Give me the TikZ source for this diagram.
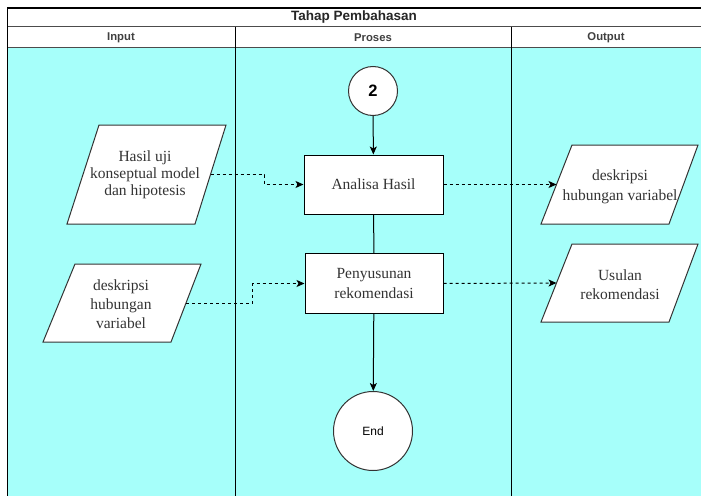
\documentclass[tikz,border=0pt]{standalone}
\usepackage{fontspec}
\setmainfont{Liberation Serif}
\setsansfont{Liberation Sans}
\usetikzlibrary{arrows.meta,calc}

\definecolor{lanefill}{HTML}{A6FFFA}
\definecolor{edgegray}{HTML}{333333}

\tikzset{
  lanetitle/.style={font=\sffamily\bfseries\fontsize{13.5}{15}\selectfont, text=black!85},
  lanehead/.style={font=\sffamily\bfseries\fontsize{11.3}{13}\selectfont, text=black!75},
  procbox/.style={draw=black, fill=white, line width=1pt, minimum width=139pt,
    minimum height=59pt, align=center, inner sep=0pt,
    font=\fontsize{15.5}{19.5}\selectfont, text=black!80},
  termcircle/.style={circle, draw=edgegray, fill=white, line width=1pt, inner sep=0pt},
  iolabel/.style={align=center, inner sep=0pt, text=black!80},
  ioshape/.style={draw=edgegray, fill=white, line width=1pt},
  solidflow/.style={draw=black, line width=1pt},
  arrowflow/.style={solidflow, -{Stealth[length=8pt,width=7pt,inset=2pt]}},
  dataflow/.style={draw=black, line width=1pt, dash pattern=on 3pt off 3pt,
    -{Stealth[length=8pt,width=7pt,inset=2pt]}},
}

\begin{document}
\begin{tikzpicture}[x=1pt,y=-1pt]
  \useasboundingbox (0,0) rectangle (701,495);

  % swimlane pool: body fill, header rows and lane dividers
  \fill[lanefill] (7.5,48) rectangle (702,496);
  \fill[white] (7.5,8) rectangle (702,48);
  \draw[black!70, line width=1pt] (7.5,27) -- (702,27);
  \draw[black!70, line width=1pt] (7.5,48) -- (702,48);
  \draw[black, line width=1pt] (235,27) -- (235,496);
  \draw[black, line width=1pt] (511,27) -- (511,496);
  \draw[black, line width=1.6pt] (702,8) -- (7.5,8) -- (7.5,496);

  \node[lanetitle] (title) at (354,17.5) {Tahap Pembahasan};
  \node[lanehead] (hin)  at (121,38) {Input};
  \node[lanehead] (hpro) at (373,38) {Proses};
  \node[lanehead] (hout) at (606,38) {Output};

  % process lane
  \node[termcircle, minimum size=49pt, font=\sffamily\bfseries\fontsize{16.5}{18}\selectfont] (c2) at (373,91) {2};
  \node[procbox] (ana) at (373.5,184.5) {Analisa Hasil};
  \node[procbox, minimum width=138pt, minimum height=60pt] (pen) at (374,283.5) {Penyusunan\\rekomendasi};
  \node[termcircle, minimum size=79pt, font=\sffamily\fontsize{12}{14}\selectfont] (end) at (373,431) {End};

  % input lane: data parallelograms
  \draw[ioshape] (99,125) -- (226,125) -- (195,224) -- (67,224) -- cycle;
  \coordinate (p1e) at (210.5,174.5);
  \node[iolabel, font=\fontsize{15.5}{17}\selectfont] (p1) at (145,175) {Hasil uji\\konseptual model\\dan hipotesis};

  \draw[ioshape] (75,264) -- (201,264) -- (171,342) -- (43,342) -- cycle;
  \coordinate (p2e) at (186,303);
  \node[iolabel, font=\fontsize{15.5}{19}\selectfont] (p2) at (121,304) {deskripsi\\hubungan\\variabel};

  % output lane: data parallelograms
  \draw[ioshape] (572,145) -- (698,145) -- (669,224) -- (541,224) -- cycle;
  \coordinate (p3w) at (556.5,184.5);
  \node[iolabel, font=\fontsize{15.5}{20}\selectfont] (p3) at (620,187) {deskripsi\\hubungan variabel};

  \draw[ioshape] (572,244) -- (698,244) -- (669,322) -- (541,322) -- cycle;
  \coordinate (p4w) at (556.5,283);
  \node[iolabel, font=\fontsize{15.5}{19}\selectfont] (p4) at (620,284.5) {Usulan\\rekomendasi};

  % control flow
  \draw[arrowflow] (c2) -- (ana);
  \draw[solidflow] (ana) -- (pen);
  \draw[arrowflow] (pen) -- (end);

  % data flow
  \draw[dataflow] (p1e) -| ([xshift=-39pt]ana.west) -- (ana.west);
  \draw[dataflow] (p2e) -| ([xshift=-52pt]pen.west) -- (pen.west);
  \draw[dataflow] (ana.east) -- (p3w);
  \draw[dataflow] (pen.east) -- (p4w);
\end{tikzpicture}
\end{document}
